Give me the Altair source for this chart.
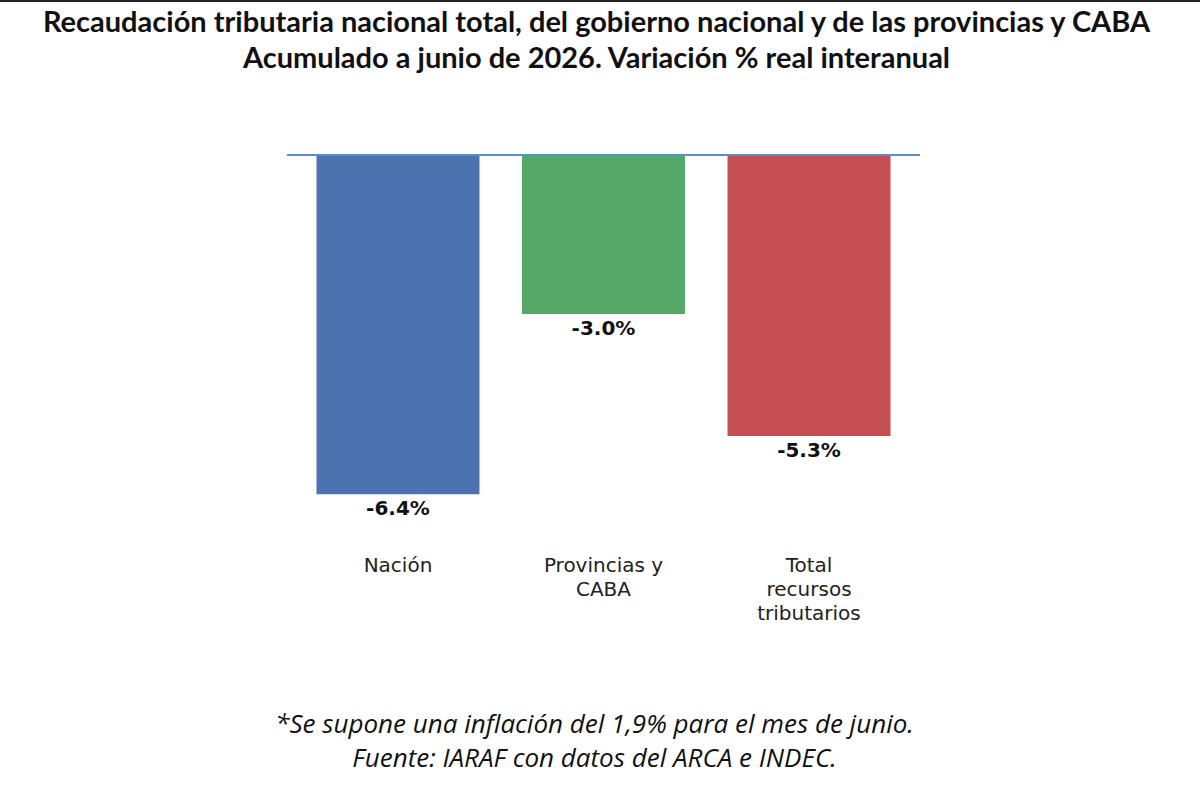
import altair as alt
import pandas as pd

# Variación % real interanual, acumulado a junio
categorias = ["Nación", "Provincias y\nCABA", "Total\nrecursos\ntributarios"]
variacion = [-6.4, -3.0, -5.3]
etiquetas = ["-6.4%", "-3.0%", "-5.3%"]
colores = ["#4C72B0", "#55A868", "#C44E52"]

titulo = [
    "Recaudación tributaria nacional total, del gobierno nacional y de las provincias y CABA",
    "Acumulado a junio de 2026. Variación % real interanual",
]
nota = [
    "*Se supone una inflación del 1,9% para el mes de junio.",
    "Fuente: IARAF con datos del ARCA e INDEC.",
]

df = pd.DataFrame({"cat": categorias, "var": variacion, "lab": etiquetas})

x_enc = alt.X(
    "cat:N",
    sort=categorias,
    scale=alt.Scale(paddingInner=0.2, paddingOuter=0.14),
    axis=alt.Axis(
        labelExpr="split(datum.label, '\\n')",
        labelAngle=0,
        labelFont="DejaVu Sans",
        labelFontSize=20,
        labelColor="#222222",
        labelLineHeight=24,
        labelPadding=39,
        labelBaseline="middle",
        ticks=False,
        domain=False,
        title=nota,
        titleFont="Open Sans",
        titleFontSize=26,
        titleFontStyle="italic",
        titleFontWeight="normal",
        titleColor="#111111",
        titleLineHeight=34,
        titlePadding=88,
        titleX=307,
    ),
)
y_scale = alt.Scale(domain=[-7, 0], nice=False)

bars = alt.Chart(df).mark_bar(size=163).encode(
    x=x_enc,
    y=alt.Y("var:Q", scale=y_scale, axis=None),
    color=alt.Color("cat:N", sort=categorias,
                    scale=alt.Scale(domain=categorias, range=colores), legend=None),
)

labels = alt.Chart(df).mark_text(
    font="DejaVu Sans", fontSize=20, fontWeight="bold", color="#111111",
    baseline="top", dy=5,
).encode(
    x=alt.X("cat:N", sort=categorias),
    y=alt.Y("var:Q", scale=y_scale),
    text="lab:N",
)

zero = alt.Chart(df).mark_rule(color="#5B8FC4", strokeWidth=1.5).encode(
    y=alt.datum(0, scale=y_scale)
)

# thin frame line along the top edge of the page
border = alt.Chart(df).mark_rule(color="#222222", strokeWidth=2).encode(
    x=alt.value(-287), x2=alt.value(913), y=alt.value(-154)
)

chart = alt.layer(bars, zero, labels, border).properties(
    width=633,
    height=371,
    title=alt.TitleParams(
        text=titulo,
        font="Lato",
        fontSize=29,
        fontWeight="bold",
        color="#111111",
        lineHeight=36,
        anchor="middle",
        dx=-7,
        offset=-74,
    ),
    autosize=alt.AutoSizeParams(type="none"),
    padding={"left": 287, "top": 155, "right": 280, "bottom": 261},
).configure(background="white").configure_view(stroke=None)

chart.save("out.html", embed_options={"renderer": "svg", "actions": False})
